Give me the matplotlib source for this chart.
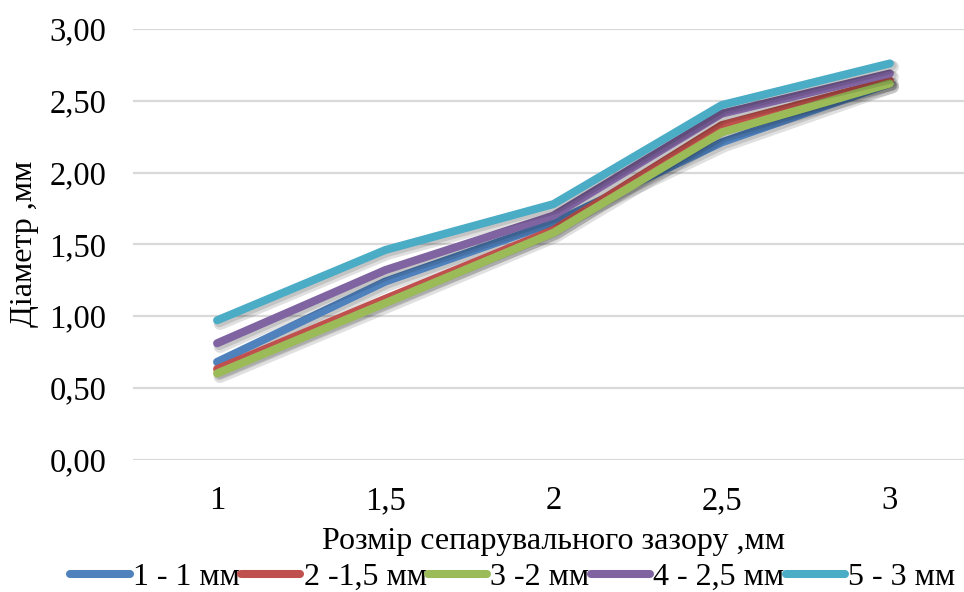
import matplotlib
matplotlib.use("Agg")
import matplotlib.pyplot as plt
import matplotlib.patheffects as pe
from matplotlib.ticker import FuncFormatter

# Separation gap sizes (category axis) and measured diameters per series
gap_labels = ["1", "1,5", "2", "2,5", "3"]
series_names = ["1 - 1 мм", "2 -1,5 мм", "3 -2 мм", "4 - 2,5 мм", "5 - 3 мм"]
s1 = [0.68, 1.24, 1.65, 2.21, 2.62]
s2 = [0.63, 1.12, 1.60, 2.33, 2.64]
s3 = [0.60, 1.09, 1.58, 2.28, 2.62]
s4 = [0.81, 1.32, 1.70, 2.41, 2.69]
s5 = [0.97, 1.46, 1.78, 2.47, 2.76]
series = [s1, s2, s3, s4, s5]
colors = ["#4F81BD", "#C0504D", "#9BBB59", "#8064A2", "#4BACC6"]

plt.rcParams["font.family"] = ["Liberation Serif", "DejaVu Serif"]

fig = plt.figure(figsize=(9.64, 5.92), dpi=100)
ax = fig.add_axes([133 / 964, 1 - 459.5 / 592, 841 / 964, (459.5 - 29) / 592])

x = list(range(len(gap_labels)))
shadow = [pe.SimpleLineShadow(offset=(2.0, -2.5), shadow_color="black", alpha=0.12, linewidth=9),
          pe.SimpleLineShadow(offset=(1.5, -1.5), shadow_color="black", alpha=0.12, linewidth=7),
          pe.Normal()]
for vals, name, c in zip(series, series_names, colors):
    ax.plot(x, vals, color=c, lw=5.8, solid_capstyle="round",
            solid_joinstyle="round", label=name, path_effects=shadow, zorder=3)

ax.set_xlim(-0.5, 4.5)
ax.set_ylim(0, 3.0)
ax.set_yticks([0, 0.5, 1.0, 1.5, 2.0, 2.5, 3.0])
ax.yaxis.set_major_formatter(FuncFormatter(lambda v, p: f"{v:.2f}".replace(".", ",")))
ax.set_xticks(x)
ax.set_xticklabels(gap_labels)
ax.grid(axis="y", color="#D9D9D9", lw=1.6, zorder=0)
for sp in ax.spines.values():
    sp.set_visible(False)
ax.tick_params(axis="both", length=0, labelsize=23.5, colors="black")
ax.tick_params(axis="x", pad=19)
ax.tick_params(axis="y", pad=19)

fig.text(553 / 964, 1 - 541 / 592, "Розмір сепарувального зазору ,мм",
         ha="center", va="center", fontsize=23)
fig.text(25 / 964, 1 - 244 / 592, "Діаметр ,мм", rotation=90,
         ha="center", va="center", fontsize=23)

leg_handles = [plt.Line2D([], [], color=c, lw=5.8, solid_capstyle="round") for c in colors]
fig.legend(leg_handles, series_names, loc="center", bbox_to_anchor=(513 / 964, 1 - 577 / 592),
           ncol=5, frameon=False, fontsize=23, handlelength=1.85, handletextpad=0.1,
           columnspacing=0.05, borderpad=0)

fig.savefig("out.png", dpi=100)
